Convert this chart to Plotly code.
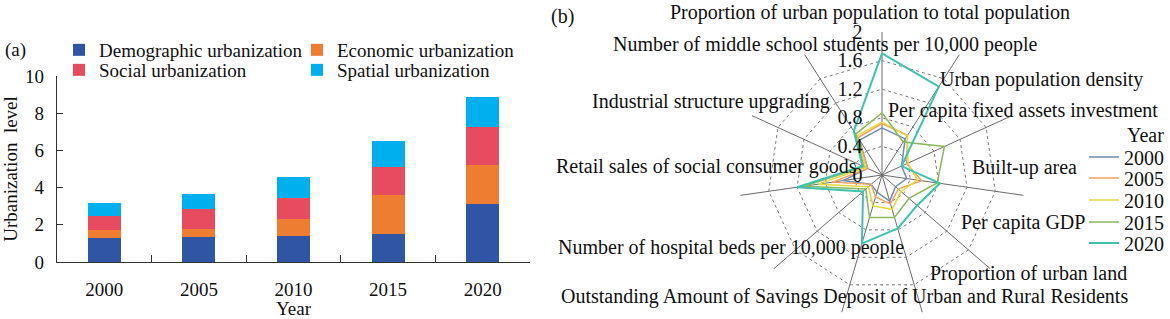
import plotly.graph_objects as go

# ---------------- data ----------------
years = ["2000", "2005", "2010", "2015", "2020"]
demographic = [1.29, 1.33, 1.38, 1.52, 3.14]
economic = [0.41, 0.43, 0.95, 2.08, 2.09]
social = [0.76, 1.07, 1.13, 1.51, 2.01]
spatial = [0.73, 0.84, 1.09, 1.38, 1.65]

indicators = [
    "Proportion of urban population to total population",
    "Urban population density",
    "Per capita fixed assets investment",
    "Built-up area",
    "Per capita GDP",
    "Proportion of urban land",
    "Outstanding Amount of Savings Deposit of Urban and Rural Residents",
    "Number of hospital beds per 10,000 people",
    "Retail sales of social consumer goods",
    "Industrial structure upgrading",
    "Number of middle school students per 10,000 people",
]
r2000 = [0.66, 0.60, 0.30, 0.35, 0.25, 0.38, 0.25, 0.20, 0.55, 0.22, 0.58]
r2005 = [0.72, 0.66, 0.38, 0.56, 0.30, 0.42, 0.32, 0.20, 0.70, 0.22, 0.62]
r2010 = [0.74, 0.65, 0.40, 0.50, 0.35, 0.50, 0.45, 0.25, 0.90, 0.25, 0.65]
r2015 = [0.87, 0.55, 0.96, 0.78, 0.50, 0.62, 0.62, 0.30, 1.10, 0.28, 0.68]
r2020 = [1.70, 1.47, 0.30, 0.82, 0.65, 0.78, 1.00, 0.35, 1.20, 0.30, 0.73]
radial_ticks = [0, 0.4, 0.8, 1.2, 1.6, 2]
radial_ticktext = ["0", "0.4", "0.8", "1.2", "1.6", "2"]

# ---------------- layout helpers ----------------
W, H = 1170, 319
FONT = "Liberation Serif, Times New Roman, serif"


def px(x):
    return x / W


def py(y):
    return 1 - y / H


fig = go.Figure()

# ---------------- panel (a): stacked bars ----------------
bar_series = [
    ("Demographic urbanization", demographic, "#2F55A4"),
    ("Economic urbanization", economic, "#EE7D31"),
    ("Social urbanization", social, "#E64B5F"),
    ("Spatial urbanization", spatial, "#00B0EE"),
]
bar_legend_pos = [(59, 50), (297, 50), (59, 70), (297, 70)]
legend_layouts = {}
for i, (name, vals, col) in enumerate(bar_series):
    lg = f"legend{i + 2}"
    fig.add_trace(go.Bar(
        x=years, y=vals, name=name, width=0.35,
        marker=dict(color=col, line=dict(width=0)),
        legend=lg, xaxis="x", yaxis="y",
    ))
    lx, ly = bar_legend_pos[i]
    legend_layouts[lg] = dict(
        x=px(lx), y=py(ly), xanchor="left", yanchor="middle",
        orientation="h", bgcolor="rgba(0,0,0,0)",
        font=dict(family=FONT, size=19, color="#111"),
    )

# ---------------- panel (b): radar ----------------
radar_series = [
    ("2000", r2000, "#6F8DB5"),
    ("2005", r2005, "#F2A35E"),
    ("2010", r2010, "#E3D93A"),
    ("2015", r2015, "#8DB85E"),
    ("2020", r2020, "#3FC3AE"),
]
radar_legend_y = [157, 178, 200, 222, 243]
for i, (name, vals, col) in enumerate(radar_series):
    lg = f"legend{i + 6}"
    fig.add_trace(go.Scatterpolar(
        r=vals + [vals[0]], theta=indicators + [indicators[0]],
        mode="lines", name=name, legend=lg,
        line=dict(color=col, width=2 if name == "2020" else 1.5),
        subplot="polar",
    ))
    legend_layouts[lg] = dict(
        x=px(1084), y=py(radar_legend_y[i]), xanchor="left", yanchor="middle",
        bgcolor="rgba(0,0,0,0)", font=dict(family=FONT, size=20, color="#111"),
    )

cx, cy, R = 882, 175, 143
fig.update_layout(
    width=W, height=H,
    margin=dict(l=0, r=0, t=0, b=0, autoexpand=False),
    paper_bgcolor="white", plot_bgcolor="white",
    font=dict(family=FONT, size=19, color="#111"),
    barmode="stack",
    xaxis=dict(
        domain=[px(57), px(530)], type="category", range=[-0.5, 4.5],
        tickson="boundaries", ticks="inside", ticklen=7, tickcolor="#333",
        showline=True, linecolor="#333", linewidth=1.3, showgrid=False,
        ticklabelstandoff=10, automargin=False,
        tickfont=dict(family=FONT, size=19, color="#111"),
        title=dict(text="Year", standoff=0, font=dict(family=FONT, size=19, color="#111")),
    ),
    yaxis=dict(
        domain=[py(262), py(76)], range=[0, 10], tickvals=[0, 2, 4, 6, 8, 10],
        ticks="inside", ticklen=6, tickcolor="#333",
        showline=True, linecolor="#333", linewidth=1.3, showgrid=False, zeroline=False,
        ticklabelstandoff=8, automargin=False,
        tickfont=dict(family=FONT, size=19, color="#111"),
        title=dict(text="Urbanization  level", standoff=10, font=dict(family=FONT, size=19, color="#111")),
    ),
    polar=dict(
        domain=dict(x=[px(cx - R), px(cx + R)], y=[py(cy + R), py(cy - R)]),
        gridshape="linear", bgcolor="rgba(0,0,0,0)",
        angularaxis=dict(
            type="category", categoryarray=indicators, direction="clockwise",
            rotation=90, showticklabels=False, ticks="", showline=False,
            gridcolor="#6b6b6b", gridwidth=1,
        ),
        radialaxis=dict(
            range=[0, 2], tickvals=radial_ticks, ticktext=radial_ticktext,
            showline=False, ticks="outside", ticklen=12, tickcolor="rgba(0,0,0,0)",
            gridcolor="#7a7a7a", griddash="dot", gridwidth=1,
            angle=90, tickangle=90, side="counterclockwise",
            tickfont=dict(family=FONT, size=20, color="#111"),
        ),
    ),
    **legend_layouts,
)

# ---------------- text annotations ----------------
ann = [
    ("(a)", 15, 50, 19),
    ("(b)", 562, 17, 20),
    ("Year", 1145, 135, 20),
    ("Proportion of urban population to total population", 870, 13, 20),
    ("Number of middle school students per 10,000 people", 825, 44, 20),
    ("Urban population density", 1041, 80, 20),
    ("Industrial structure upgrading", 711, 101, 20),
    ("Per capita fixed assets investment", 1023, 111, 20),
    ("Retail sales of social consumer goods", 706, 166, 20),
    ("Built-up area", 1024, 167, 20),
    ("Per capita GDP", 1023, 222, 20),
    ("Number of hospital beds per 10,000 people", 731, 248, 20),
    ("Proportion of urban land", 1028, 273, 20),
    ("Outstanding Amount of Savings Deposit of Urban and Rural Residents", 844, 296, 20),
]
for text, x, y, s in ann:
    fig.add_annotation(
        text=text, x=px(x), y=py(y), xref="paper", yref="paper",
        xanchor="center", yanchor="middle", showarrow=False,
        font=dict(family=FONT, size=s, color="#111"),
    )

# remove the default 8 px page margin so the figure fills the window exactly
fig.write_html(
    "out.html",
    config={"displayModeBar": False},
    post_script="document.body.style.margin='0px';",
)
